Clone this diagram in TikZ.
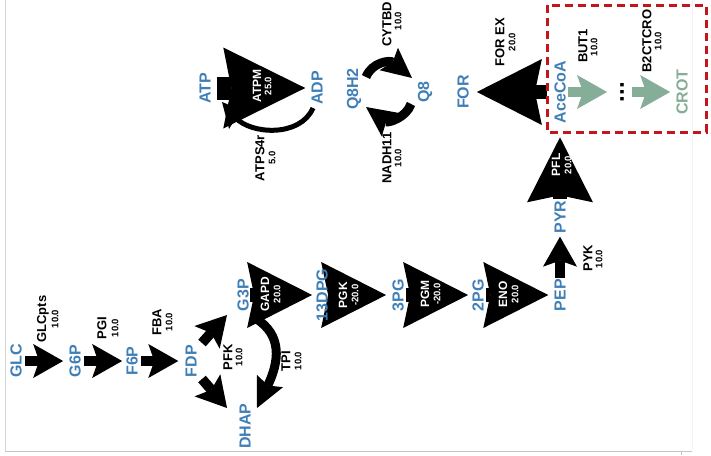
\documentclass[tikz,border=0pt]{standalone}
\usepackage{fontspec}
\setmainfont{Liberation Sans}
\usetikzlibrary{arrows.meta}

\definecolor{metblue}{HTML}{3F7FB6}
\definecolor{butgreen}{HTML}{86AD97}
\definecolor{boxred}{HTML}{C3161C}
\definecolor{framegray}{HTML}{C4C4C4}

\pgfdeclarelayer{segments}
\pgfsetlayers{segments,main}

\newcommand{\fsz}[1]{\fontsize{#1}{#1}\selectfont\bfseries}

\tikzset{
  met/.style={rotate=90, inner sep=1pt, text=metblue, font=\fsz{16}},
  rxn/.style={rotate=90, inner sep=0pt, font=\fsz{13}},
  rxnin/.style={rotate=90, inner sep=0pt, text=white, font=\fsz{12}},
  flux/.style={rotate=90, inner sep=0pt, font=\fsz{9.5}},
  rx10/.style={line width=10pt, -{Stealth[length=30pt 0 0, width=34pt 0 0, inset=6pt 0, line width=0pt 0 0]}},
  rx20/.style={line width=14pt, -{Stealth[length=65pt 0 0, width=66pt 0 0, inset=7pt 0, line width=0pt 0 0]}},
  rx25/.style={line width=23pt, -{Stealth[length=82pt 0 0, width=81pt 0 0, inset=8pt 0, line width=0pt 0 0]}},
  bent10/.style={line width=9pt, -{Stealth[length=30pt 0 0, width=29pt 0 0, inset=5pt 0, line width=0pt 0 0]}},
  bent5/.style={line width=5pt, -{Stealth[length=25pt 0 0, width=25pt 0 0, inset=4pt 0, line width=0pt 0 0]}},
}

\begin{document}
\begin{tikzpicture}[x=1pt,y=-1pt]
\useasboundingbox (0,0) rectangle (711,455);

% canvas frame
\draw[framegray!70, line width=1pt] (5.5,0) -- (5.5,451.5);
\draw[framegray, line width=1.5pt] (5,451.5) -- (692,451.5);
\draw[framegray, line width=1pt] (681,451.5) -- (681,455);
\draw[framegray!20, line width=1pt] (692,0) -- (692,451);

% butyrate pathway box
\draw[boxred, line width=3pt, dash pattern=on 8pt off 5pt] (547,5) rectangle (706,132);

% metabolites
\node[met] (GLC) at (16,361) {GLC};
\node[met] (G6P) at (75,361) {G6P};
\node[met] (F6P) at (132,361) {F6P};
\node[met] (FDP) at (191,361) {FDP};
\node[met] (G3P) at (243,295) {G3P};
\node[met] (DHAP) at (245,426) {DHAP};
\node[met] (DPG13) at (322,295) {13DPG};
\node[met] (PG3) at (398,295) {3PG};
\node[met] (PG2) at (478,295) {2PG};
\node[met] (PEP) at (560,295) {PEP};
\node[met] (PYR) at (560,217) {PYR};
\node[met] (AceCoA) at (560,92) {AceCoA};
\node[met] (FOR) at (463,92) {FOR};
\node[met, text=butgreen] (CROT) at (682,92) {CROT};
\node[met] (Q8H2) at (354,89) {Q8H2};
\node[met] (Q8) at (425,92) {Q8};
\node[met] (ATP) at (205,88) {ATP};
\node[met] (ADP) at (317,88) {ADP};
\node[rotate=90, inner sep=0pt, font=\fsz{24}] (dots) at (622,92) {...};

% free ends of the bent and forked reactions
\coordinate (pfk-s1) at (202,343);
\coordinate (pfk-e1) at (227,315);
\coordinate (pfk-s2) at (202,379);
\coordinate (pfk-e2) at (227,408);
\coordinate (tpi-s) at (255,318);
\coordinate (tpi-e) at (257,408);
\coordinate (cyt-s) at (366,77);
\coordinate (cyt-e) at (412,78);
\coordinate (nadh-s) at (411,104);
\coordinate (nadh-e) at (366,107);
\coordinate (atps-s) at (313,108);
\coordinate (atps-e) at (222,102);

\begin{pgfonlayer}{segments}
% bent reactions
\draw[bent5] (atps-s) .. controls (300,138) and (250,134) .. (atps-e);
\draw[bent10] (tpi-s) .. controls (283,335) and (279,362) .. (tpi-e);
\draw[bent10] (cyt-s) .. controls (372,62) and (390,60) .. (cyt-e);
\draw[bent10] (nadh-s) .. controls (406,118) and (388,123) .. (nadh-e);

% straight reactions
\draw[rx10, shorten <=2pt, shorten >=5pt] (GLC) -- (G6P);
\draw[rx10, shorten <=2pt, shorten >=3pt] (G6P) -- (F6P);
\draw[rx10, shorten <=2pt, shorten >=6pt] (F6P) -- (FDP);
\draw[rx10] (pfk-s1) -- (pfk-e1);
\draw[rx10] (pfk-s2) -- (pfk-e2);
\draw[rx20, shorten <=0pt, shorten >=3pt] (G3P) -- (DPG13);
\draw[rx20, shorten <=-2pt, shorten >=5pt] (DPG13) -- (PG3);
\draw[rx20, shorten <=1pt, shorten >=3pt] (PG3) -- (PG2);
\draw[rx20, shorten <=1pt, shorten >=5pt] (PG2) -- (PEP);
\draw[rx10, shorten >=2pt] (PEP) -- (PYR);
\draw[rx20, shorten >=13pt] (PYR) -- (AceCoA);
\draw[rx20, shorten <=6pt, shorten >=7pt] (AceCoA) -- (FOR);
\draw[rx25, shorten <=5pt, shorten >=5pt] (ATP) -- (ADP);
\draw[rx10, butgreen, shorten <=1pt, shorten >=13pt] (AceCoA) -- (dots);
\draw[rx10, butgreen, shorten <=8pt, shorten >=5pt] (dots) -- (CROT);
\end{pgfonlayer}

% reaction names and fluxes
\node[rxn] at (43,319) {GLCpts};  \node[flux] at (55,319) {10.0};
\node[rxn] at (102,328) {PGI};    \node[flux] at (115,328) {10.0};
\node[rxn] at (157,322) {FBA};    \node[flux] at (169,322) {10.0};
\node[rxn] at (228,357) {PFK};    \node[flux] at (239,357) {10.0};
\node[rxn] at (286,361) {TPI};    \node[flux] at (298,361) {10.0};
\node[rxn] at (588,258) {PYK};    \node[flux] at (599,259) {10.0};
\node[rxn] at (500,42) {FOR EX};  \node[flux] at (512,42) {20.0};
\node[rxn] at (583,46) {BUT1};    \node[flux] at (594,47) {10.0};
\node[rxn] at (647,41) {B2CTCRO}; \node[flux] at (658,41) {10.0};
\node[rxn] at (387,24) {CYTBD};   \node[flux] at (398,21) {10.0};
\node[rxn] at (387,158) {NADH11}; \node[flux] at (398,158) {10.0};
\node[rxn] at (260,158) {ATPS4r}; \node[flux] at (272,158) {5.0};

% names inside the wide arrows
\node[rxnin] at (265,294) {GAPD}; \node[flux, text=white] at (277,294) {20.0};
\node[rxnin] at (343,295) {PGK};  \node[flux, text=white] at (355,295) {-20.0};
\node[rxnin] at (425,294) {PGM};  \node[flux, text=white] at (437,294) {-20.0};
\node[rxnin] at (503,294) {ENO};  \node[flux, text=white] at (515,294) {20.0};
\node[rxnin] at (556,165) {PFL};  \node[flux, text=white] at (568,165) {20.0};
\node[rxnin] at (257,86) {ATPM};  \node[flux, text=white] at (268,86) {25.0};
\end{tikzpicture}
\end{document}
